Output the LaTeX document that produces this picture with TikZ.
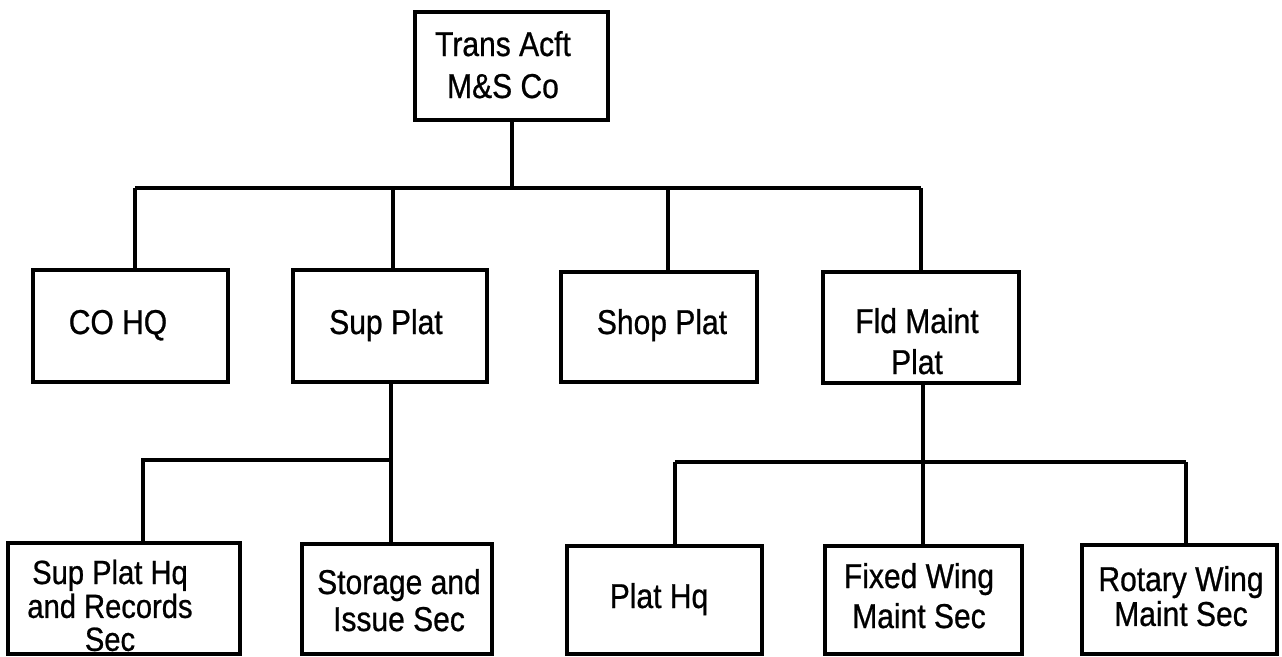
\documentclass[tikz,border=0pt]{standalone}
\usepackage{fontspec}
\setmainfont{Liberation Sans}[FakeStretch=0.87,FakeBold=0.7]
\newcommand{\mystack}[1]{\begin{tabular}[t]{@{}c@{}}#1\end{tabular}}
\begin{document}
\begin{tikzpicture}[x=1pt,y=-1pt,
  box/.style={draw=black, line width=4.2pt, inner sep=0pt, minimum width=#1, minimum height=110pt},
  conn/.style={draw=black, line width=4pt},
  lbl/.style={anchor=base, inner sep=0pt, font=\fontsize{34.5}{#1}\selectfont},
  lbl/.default=37]
\useasboundingbox[fill=white] (0,0) rectangle (1282,656);

% boxes
\node[box=193pt, minimum height=108pt] (top) at (511.5,66) {};
\node[box=195pt, minimum height=112pt] (co) at (130.5,326) {};
\node[box=194pt, minimum height=112pt] (sup) at (390,326) {};
\node[box=196pt, minimum height=110pt] (shop) at (659,327) {};
\node[box=196pt, minimum height=111pt] (fld) at (921,327.5) {};
\node[box=232pt, minimum height=111pt] (sphq) at (124,598.5) {};
\node[box=190pt, minimum height=110pt] (stor) at (397,599) {};
\node[box=195pt, minimum height=108pt] (plathq) at (664.5,600) {};
\node[box=197pt, minimum height=108pt] (fixed) at (923.5,600) {};
\node[box=195pt, minimum height=109pt] (rot) at (1179.5,599.5) {};

% labels
\node[lbl=42] (top-t) at (503,56) {\mystack{Trans Acft\\M\&S Co}};
\node[lbl] (co-t) at (118,334) {CO HQ};
\node[lbl] (sup-t) at (386,334) {Sup Plat};
\node[lbl] (shop-t) at (662,334) {Shop Plat};
\node[lbl=41] (fld-t) at (917,333) {\mystack{Fld Maint\\Plat}};
\node[lbl=32, font=\fontsize{33.5}{32}\selectfont] (sphq-t) at (110,584) {\mystack{Sup Plat Hq\\and Records\\Sec}};
\node[lbl=37] (stor-t) at (399,594) {\mystack{Storage and\\Issue Sec}};
\node[lbl] (plathq-t) at (659,608) {Plat Hq};
\node[lbl=40] (fixed-t) at (919,588) {\mystack{Fixed Wing\\Maint Sec}};
\node[lbl=33] (rot-t) at (1181,591) {\mystack{Rotary Wing\\Maint Sec}};

% junction coordinates
\coordinate (b0) at (512,188);
\coordinate (d1) at (135,188);
\coordinate (d2) at (393,188);
\coordinate (d3) at (668,188);
\coordinate (d4) at (921,188);
\coordinate (s0) at (391,460);
\coordinate (s1) at (143,460);
\coordinate (f0) at (923,462);
\coordinate (f1) at (675,462);
\coordinate (f2) at (1186,462);

% connectors level 1
\draw[conn] (top.south -| b0) -- (b0);
\draw[conn] (d1) -- (d4);
\draw[conn] (d1) -- (co.north -| d1);
\draw[conn] (d2) -- (sup.north -| d2);
\draw[conn] (d3) -- (shop.north -| d3);
\draw[conn] (d4) -- (fld.north -| d4);

% supply platoon
\draw[conn] (sup.south -| s0) -- (s0) -- (stor.north -| s0);
\draw[conn] (s0) -- (s1) -- (sphq.north -| s1);

% field maintenance platoon
\draw[conn] (fld.south -| f0) -- (f0) -- (fixed.north -| f0);
\draw[conn] (f1) -- (f2);
\draw[conn] (f1) -- (plathq.north -| f1);
\draw[conn] (f2) -- (rot.north -| f2);
\end{tikzpicture}
\end{document}
